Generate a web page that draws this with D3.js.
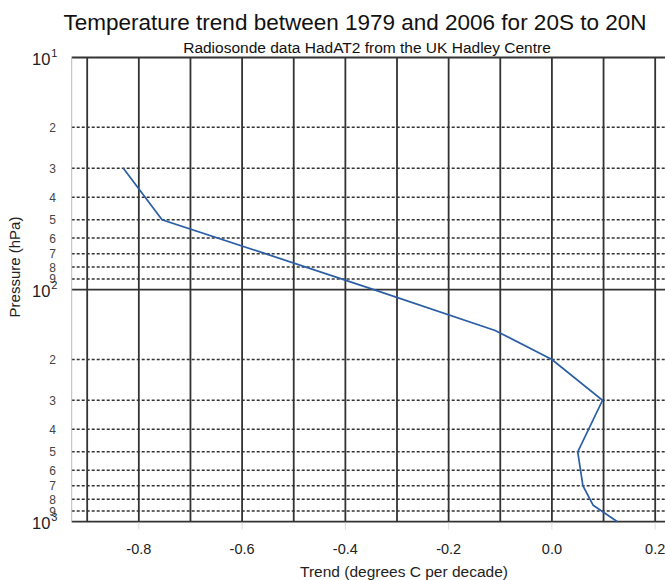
<!DOCTYPE html>
<html lang="en">
<head>
<meta charset="utf-8">
<script src="https://d3js.org/d3.v7.min.js"></script>
<style>
  body { margin: 0; background: #fff; }
  text { font-family: "Liberation Sans", Arial, sans-serif; }
</style>
<title>Temperature trend</title>
</head>
<body>
<script type="text/javascript">
  // pressure levels (hPa) and trend (degrees C per decade)
  var pressure = [30, 50, 70, 100, 150, 200, 300, 500, 700, 850, 1000];
  var trend = [-0.83, -0.755, -0.555, -0.345, -0.11, 0.0, 0.098, 0.05, 0.06, 0.08, 0.127];

  var xTicks = [-0.8, -0.6, -0.4, -0.2, 0.0, 0.2];
  var xGrid = [-0.9, -0.8, -0.7, -0.6, -0.5, -0.4, -0.3, -0.2, -0.1, 0.0, 0.1, 0.2];
  var decades = [10, 100, 1000];
  var decadeExp = ["1", "2", "3"];
  var minorDigits = [2, 3, 4, 5, 6, 7, 8, 9];

  var width = 665, height = 580;
  var plotLeft = 71.7, plotRight = 681, plotTop = 57.5, plotBottom = 521.7;

  var svg = d3.select("body").append("svg")
    .attr("width", width)
    .attr("height", height);

  var x = d3.scaleLinear().domain([-0.93, 0.25]).range([plotLeft, plotRight]);
  var y = d3.scaleLog().domain([10, 1000]).range([plotTop, plotBottom]);

  // minor pressure levels (dashed)
  var minors = [];
  decades.slice(0, 2).forEach(function(d) {
    minorDigits.forEach(function(m) { minors.push({ p: d * m, label: m }); });
  });

  svg.selectAll(".minor")
    .data(minors)
    .enter().append("line")
    .attr("x1", plotLeft).attr("x2", plotRight)
    .attr("y1", function(d) { return y(d.p); })
    .attr("y2", function(d) { return y(d.p); })
    .style("stroke", "#333")
    .style("stroke-width", 1.5)
    .style("stroke-dasharray", "3,2");

  // vertical grid
  svg.selectAll(".vgrid")
    .data(xGrid)
    .enter().append("line")
    .attr("x1", function(d) { return x(d); })
    .attr("x2", function(d) { return x(d); })
    .attr("y1", plotTop).attr("y2", plotBottom)
    .style("stroke", "#333")
    .style("stroke-width", 1.8);

  // decade lines
  svg.selectAll(".major")
    .data(decades)
    .enter().append("line")
    .attr("x1", plotLeft).attr("x2", plotRight)
    .attr("y1", function(d) { return y(d); })
    .attr("y2", function(d) { return y(d); })
    .style("stroke", "#333")
    .style("stroke-width", 1.8);

  // left frame
  svg.append("line")
    .attr("x1", plotLeft).attr("x2", plotLeft)
    .attr("y1", plotTop).attr("y2", plotBottom)
    .style("stroke", "#bbb")
    .style("stroke-width", 1);

  // x ticks (faint)
  svg.selectAll(".xtick")
    .data(xTicks)
    .enter().append("line")
    .attr("x1", function(d) { return x(d); })
    .attr("x2", function(d) { return x(d); })
    .attr("y1", plotBottom + 1).attr("y2", plotBottom + 8)
    .style("stroke", "#ddd")
    .style("stroke-width", 1);

  svg.selectAll(".xlabel")
    .data(xTicks)
    .enter().append("text")
    .attr("x", function(d) { return x(d); })
    .attr("y", 554)
    .attr("text-anchor", "middle")
    .style("font-size", "14.5px")
    .style("fill", "#222")
    .text(function(d) { return d3.format(".1f")(d).replace("−", "-"); });

  // y labels: minor digits
  svg.selectAll(".ylabel")
    .data(minors)
    .enter().append("text")
    .attr("x", 56)
    .attr("y", function(d) { return y(d.p) + 4.5; })
    .attr("text-anchor", "end")
    .style("font-size", "12px")
    .style("fill", "#444")
    .text(function(d) { return d.label; });

  // y labels: decades
  var dec = svg.selectAll(".dec")
    .data(decades)
    .enter().append("text")
    .attr("x", 32)
    .attr("y", function(d) { return y(d) + 7; })
    .style("font-size", "16.5px")
    .style("fill", "#222");
  dec.append("tspan").text("10");
  dec.append("tspan")
    .attr("dy", -8)
    .attr("dx", 1)
    .style("font-size", "11px")
    .text(function(d, i) { return decadeExp[i]; });

  // trend line
  var line = d3.line()
    .x(function(d, i) { return x(trend[i]); })
    .y(function(d) { return y(d); });

  svg.append("path")
    .datum(pressure)
    .attr("d", line)
    .style("fill", "none")
    .style("stroke", "#2b5fa5")
    .style("stroke-width", 1.7);

  // titles
  svg.append("text")
    .attr("x", 355).attr("y", 30)
    .attr("text-anchor", "middle")
    .style("font-size", "22.5px")
    .style("fill", "#111")
    .text("Temperature trend between 1979 and 2006 for 20S to 20N");

  svg.append("text")
    .attr("x", 367).attr("y", 53)
    .attr("text-anchor", "middle")
    .style("font-size", "15.5px")
    .style("fill", "#111")
    .text("Radiosonde data HadAT2 from the UK Hadley Centre");

  svg.append("text")
    .attr("x", 404).attr("y", 577)
    .attr("text-anchor", "middle")
    .style("font-size", "15.5px")
    .style("fill", "#222")
    .text("Trend (degrees C per decade)");

  svg.append("text")
    .attr("transform", "translate(20,267) rotate(-90)")
    .attr("text-anchor", "middle")
    .style("font-size", "15px")
    .style("fill", "#222")
    .text("Pressure (hPa)");
</script>
</body>
</html>
